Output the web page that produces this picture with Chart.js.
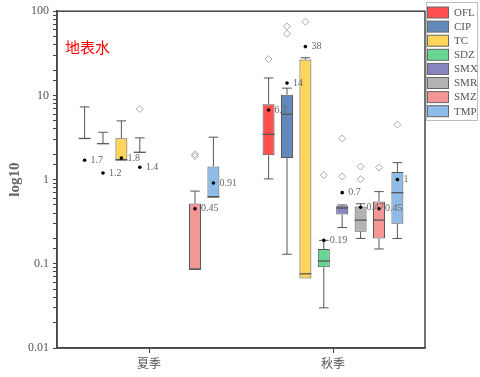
<!DOCTYPE html>
<html>
<head>
<meta charset="utf-8">
<script src="https://cdn.jsdelivr.net/npm/chart.js@4.4.1/dist/chart.umd.min.js"></script>
<style>
  html, body { margin: 0; padding: 0; background: #fff; }
  #wrap { width: 480px; height: 377px; }
</style>
</head>
<body>
<div id="wrap"><canvas id="c" width="480" height="377"></canvas></div>
<script>
const SERIES  = ['OFL', 'CIP', 'TC', 'SDZ', 'SMX', 'SMR', 'SMZ', 'TMP'];
const SEASONS = ['夏季', '秋季'];

// box stats per series: summer (夏季)
const LO_SUMMER   = [3.08, 2.67, 1.71, 2.11, null, null, 0.086, 0.62];
const Q1_SUMMER   = [3.08, 2.67, 1.71, 2.11, null, null, 0.086, 0.62];
const MED_SUMMER  = [3.08, 2.67, 1.71, 2.11, null, null, 0.086, 0.62];
const Q3_SUMMER   = [3.08, 2.67, 3.1,  2.11, null, null, 0.52,  1.43];
const HI_SUMMER   = [7.3,  3.65, 4.98, 3.13, null, null, 0.73,  3.19];
const MEAN_SUMMER = [1.7,  1.2,  1.8,  1.4,  null, null, 0.45,  0.91];
const OUT_SUMMER  = [[], [], [], [6.9], [], [], [1.9, 2.0], []];

// box stats per series: autumn (秋季)
const LO_AUTUMN   = [1.02, 0.13, 0.067, 0.030, 0.27,  0.2,  0.15, 0.2];
const Q1_AUTUMN   = [1.94, 1.8,  0.067, 0.091, 0.385, 0.24, 0.2,  0.3];
const MED_AUTUMN  = [3.45, 5.96, 0.076, 0.108, 0.46,  0.33, 0.33, 0.70];
const Q3_AUTUMN   = [7.86, 10.2, 26.7,  0.15,  0.49,  0.48, 0.55, 1.23];
const HI_AUTUMN   = [16.1, 12.2, 28,    0.19,  0.5,   0.516, 0.72, 1.59];
const MEAN_AUTUMN = [6.7,  14,   38,    0.19,  0.7,   0.47, 0.45, 1];
const OUT_AUTUMN  = [[27], [54, 66], [75], [1.13], [3.08, 1.09], [1.43, 1.01], [1.39], [4.5]];

const Y_TICKS = [0.01, 0.1, 1, 10, 100];

const COLORS = ['#ff5050', '#6389bb', '#ffd45a', '#66d692', '#8785c0', '#b3b3b3', '#f59696', '#8fbbe8'];
const SERIF = '"Liberation Serif", "DejaVu Serif", serif';
const CJK   = '"Noto Sans CJK SC", "Noto Sans", sans-serif';

const stats = [
    { lo: LO_SUMMER, q1: Q1_SUMMER, med: MED_SUMMER, q3: Q3_SUMMER, hi: HI_SUMMER, mean: MEAN_SUMMER, out: OUT_SUMMER },
    { lo: LO_AUTUMN, q1: Q1_AUTUMN, med: MED_AUTUMN, q3: Q3_AUTUMN, hi: HI_AUTUMN, mean: MEAN_AUTUMN, out: OUT_AUTUMN },
];

const datasets = SERIES.map((name, i) => ({
    label: name,
    data: stats.map(s => (s.q1[i] == null ? null : [s.q1[i], s.q3[i]])),
    backgroundColor: COLORS[i],
    borderColor: '#555',
    borderWidth: 1,
    borderSkipped: false,
    categoryPercentage: 0.8,
    barPercentage: 0.65,
}));

// whiskers, medians, means, labels and outliers, drawn right after each dataset
// so later boxes cover earlier labels like in the original plot
const boxExtras = {
    id: 'boxExtras',
    afterDatasetDraw(chart, args) {
        const i = args.index;
        const y = chart.scales.y;
        const c = chart.ctx;
        const meta = chart.getDatasetMeta(i);
        meta.data.forEach((bar, k) => {
            const s = stats[k];
            if (s.q1[i] == null) return;
            const x = bar.x, half = bar.width / 2, cap = bar.width * 0.4;
            const py = v => y.getPixelForValue(v);
            c.save();
            c.strokeStyle = '#555';
            c.lineWidth = 1;
            c.beginPath();
            if (s.hi[i] > s.q3[i]) {
                c.moveTo(x, py(s.q3[i])); c.lineTo(x, py(s.hi[i]));
                c.moveTo(x - cap, py(s.hi[i])); c.lineTo(x + cap, py(s.hi[i]));
            }
            if (s.lo[i] < s.q1[i]) {
                c.moveTo(x, py(s.q1[i])); c.lineTo(x, py(s.lo[i]));
                c.moveTo(x - cap, py(s.lo[i])); c.lineTo(x + cap, py(s.lo[i]));
            }
            c.stroke();
            c.lineWidth = 1.3;
            c.beginPath();
            c.moveTo(x - half, py(s.med[i])); c.lineTo(x + half, py(s.med[i]));
            c.stroke();

            c.strokeStyle = '#a8a8a8';
            c.lineWidth = 1;
            s.out[i].forEach(v => {
                const oy = py(v), r = 3.5;
                c.beginPath();
                c.moveTo(x, oy - r); c.lineTo(x + r, oy); c.lineTo(x, oy + r); c.lineTo(x - r, oy);
                c.closePath();
                c.stroke();
            });

            if (s.mean[i] != null) {
                const my = py(s.mean[i]);
                c.fillStyle = '#000';
                c.beginPath();
                c.arc(x, my, 1.8, 0, Math.PI * 2);
                c.fill();
                c.fillStyle = '#666';
                c.font = '10px ' + SERIF;
                c.textAlign = 'left';
                c.textBaseline = 'middle';
                c.fillText(String(s.mean[i]), x + 6, my);
            }
            c.restore();
        });
    },
};

const frameAndLegend = {
    id: 'frameAndLegend',
    afterDraw(chart) {
        const c = chart.ctx;
        const a = chart.chartArea;
        c.save();
        c.strokeStyle = '#444';
        c.lineWidth = 1.5;
        c.strokeRect(a.left, a.top, a.right - a.left, a.bottom - a.top);

        c.strokeStyle = '#bbb';
        c.lineWidth = 1;
        c.strokeRect(426.5, 2.5, 51, 118);
        SERIES.forEach((name, i) => {
            const top = 7 + i * 14.1;
            c.fillStyle = COLORS[i];
            c.fillRect(427.5, top, 21, 11);
            c.strokeStyle = '#666';
            c.strokeRect(427.5, top, 21, 11);
            c.fillStyle = '#555';
            c.font = '11px ' + SERIF;
            c.textAlign = 'left';
            c.textBaseline = 'middle';
            c.fillText(name, 454, top + 6);
        });

        c.fillStyle = '#ff0000';
        c.font = '15px ' + CJK;
        c.textAlign = 'left';
        c.textBaseline = 'middle';
        c.fillText('地表水', 65, 47);
        c.restore();
    },
};

new Chart(document.getElementById('c'), {
    type: 'bar',
    data: { labels: SEASONS, datasets },
    options: {
        responsive: false,
        animation: false,
        layout: { padding: { top: 5, right: 55, left: 0, bottom: 0 } },
        plugins: {
            legend: { display: false },
            tooltip: { enabled: false },
        },
        scales: {
            x: {
                offset: true,
                grid: { offset: false, drawOnChartArea: false, tickLength: 5, color: '#444' },
                border: { color: '#444', width: 1.5 },
                ticks: { color: '#555', font: { family: CJK, size: 12 }, padding: 3 },
                afterFit: s => { s.height = 29; },
            },
            y: {
                type: 'logarithmic',
                min: 0.01,
                max: 100,
                grid: { drawOnChartArea: false, tickLength: 4, color: '#444' },
                border: { color: '#444', width: 1.5 },
                ticks: {
                    autoSkip: false,
                    color: '#555',
                    font: { family: SERIF, size: 12 },
                    padding: 4,
                    callback: v => (Y_TICKS.includes(v) ? String(v) : ''),
                },
                title: {
                    display: true,
                    text: 'log10',
                    color: '#666',
                    font: { family: SERIF, size: 15, weight: 'bold' },
                    padding: { top: 6, bottom: 0 },
                },
                afterFit: s => { s.width = 57; },
            },
        },
    },
    plugins: [boxExtras, frameAndLegend],
});
</script>
</body>
</html>
